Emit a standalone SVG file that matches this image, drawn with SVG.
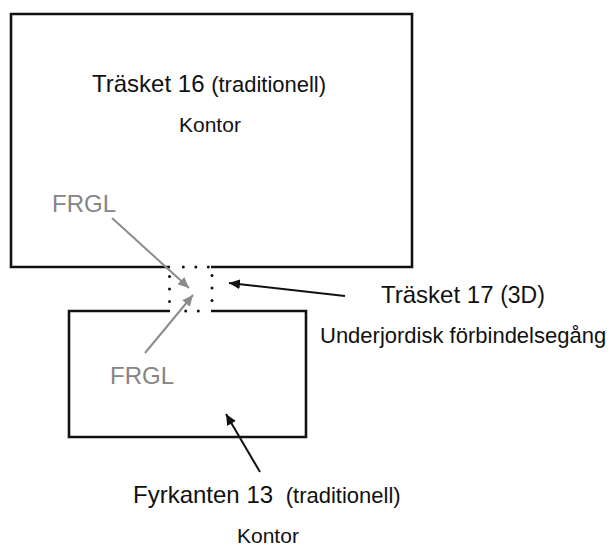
<svg xmlns="http://www.w3.org/2000/svg" width="611" height="546" viewBox="0 0 611 546">
<style>
  text { font-family: "Liberation Sans", Arial, sans-serif; fill: #111; }
  .big { font-size: 24px; }
  .par { font-size: 22px; }
  .sub { font-size: 21px; }
  .gray { fill: #858585; font-size: 24px; }
  .wall { fill: none; stroke: #111; stroke-width: 2.6; }
  .blk { stroke: #111; stroke-width: 2; fill: none; }
  .gry { stroke: #8c8c8c; stroke-width: 2; fill: none; }
</style>
<defs>
  <marker id="ab" markerUnits="userSpaceOnUse" markerWidth="12" markerHeight="10" refX="11" refY="5" orient="auto">
    <path d="M0,0 L11,5 L0,10 Z" fill="#111"/>
  </marker>
  <marker id="ag" markerUnits="userSpaceOnUse" markerWidth="12" markerHeight="10" refX="11" refY="5" orient="auto">
    <path d="M0,0 L11,5 L0,10 Z" fill="#8c8c8c"/>
  </marker>
</defs>

<g id="trasket16">
  <path class="wall" d="M170,267 H11 V14 H412 V267 H211"/>
  <text x="92" y="92" class="big">Träsket 16 <tspan class="par">(traditionell)</tspan></text>
  <text x="179" y="132" class="sub">Kontor</text>
</g>

<g id="fyrkanten13">
  <path class="wall" d="M170,311 H69 V437 H306 V311 H211"/>
  <text x="133" y="503" class="big">Fyrkanten 13 <tspan class="par" dx="6">(traditionell)</tspan></text>
  <text x="237" y="543" class="sub">Kontor</text>
</g>

<g id="trasket17">
  <g fill="#111">
    <circle cx="183.3" cy="267" r="1.5"/>
    <circle cx="195.8" cy="267" r="1.5"/>
    <circle cx="208.3" cy="267" r="1.5"/>
    <circle cx="169.5" cy="276.5" r="1.5"/>
    <circle cx="169.5" cy="289" r="1.5"/>
    <circle cx="169.5" cy="301.5" r="1.5"/>
    <circle cx="212" cy="275.5" r="1.5"/>
    <circle cx="212" cy="288" r="1.5"/>
    <circle cx="212" cy="300.5" r="1.5"/>
    <circle cx="185.7" cy="311" r="1.5"/>
    <circle cx="198.3" cy="311" r="1.5"/>
  </g>
  <text x="381" y="303" class="big">Träsket 17 <tspan style="font-size:23px">(3D)</tspan></text>
  <text x="320" y="343" style="font-size:22px">Underjordisk förbindelsegång</text>
</g>

<g id="frgl-top">
  <text x="52" y="212" class="gray">FRGL</text>
</g>
<g id="frgl-bottom">
  <text x="110" y="384" class="gray">FRGL</text>
</g>

<g id="connectors">
  <line class="gry" x1="112" y1="218" x2="189" y2="288" marker-end="url(#ag)"/>
  <line class="gry" x1="145" y1="353" x2="193" y2="295" marker-end="url(#ag)"/>
  <line class="blk" x1="345" y1="296" x2="229" y2="283" marker-end="url(#ab)"/>
  <line class="blk" x1="260" y1="472" x2="226" y2="414" marker-end="url(#ab)"/>
</g>
</svg>
